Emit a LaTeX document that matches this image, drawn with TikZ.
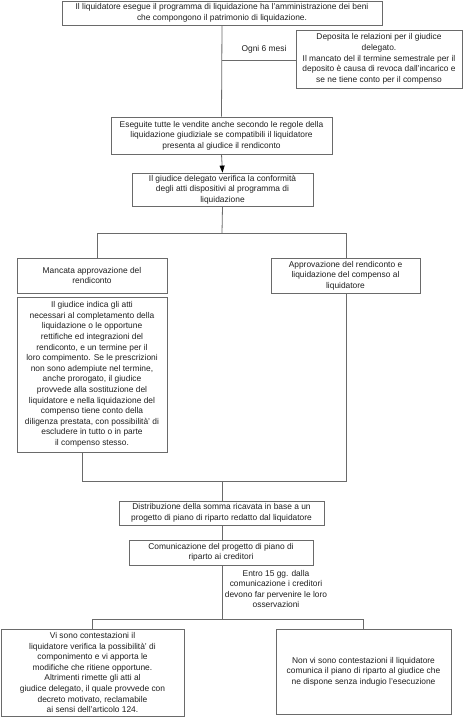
\documentclass[tikz,border=0pt]{standalone}
\usepackage{fontspec}
\setmainfont{Liberation Sans}
\usetikzlibrary{arrows.meta}
\definecolor{edge}{HTML}{6A6A6A}
\definecolor{ink}{HTML}{1E1E1E}
\tikzset{
  box/.style={draw=edge, line width=0.8pt, inner sep=0pt, align=center, text=ink,
    font=\fontsize{8.4}{10.6}\selectfont},
  conn/.style={draw=edge, line width=0.8pt},
  lbl/.style={inner sep=0pt, align=center, text=ink, font=\fontsize{8.4}{10.6}\selectfont}
}
\begin{document}
\begin{tikzpicture}[x=1pt,y=-1pt]
\useasboundingbox (0,0) rectangle (468,717);
\node[box, minimum width=320, minimum height=24] (b1) at (222,13)
  {Il liquidatore esegue il programma di liquidazione ha l'amministrazione dei beni\\che compongono il patrimonio di liquidazione.};
\node[box, minimum width=166, minimum height=58] (b2) at (379,59)
  {Deposita le relazioni per il giudice\\delegato.\\Il mancato del il termine semestrale per il\\deposito è causa di revoca dall'incarico e\\se ne tiene conto per il compenso};
\node[box, minimum width=221, minimum height=37] (b3) at (221.5,135.5)
  {Eseguite tutte le vendite anche secondo le regole della\\liquidazione giudiziale se compatibili il liquidatore\\presenta al giudice il rendiconto};
\node[box, minimum width=181, minimum height=33] (b4) at (222.5,189.5)
  {Il giudice delegato verifica la conformità\\degli atti dispositivi al programma di\\liquidazione};
\node[box, minimum width=150, minimum height=35] (b5) at (92,275.5)
  {Mancata approvazione del\\rendiconto};
\node[box, minimum width=149, minimum height=35] (b6) at (345.5,275.5)
  {Approvazione del rendiconto e\\liquidazione del compenso al\\liquidatore};
\node[box, minimum width=150, minimum height=155] (b7) at (92,374.5)
  {Il giudice indica gli atti\\necessari al completamento della\\liquidazione o le opportune\\rettifiche ed integrazioni del\\rendiconto, e un termine per il\\loro compimento. Se le prescrizioni\\non sono adempiute nel termine,\\anche prorogato, il giudice\\provvede alla sostituzione del\\liquidatore e nella liquidazione del\\compenso tiene conto della\\diligenza prestata, con possibilità' di\\escludere in tutto o in parte\\il compenso stesso.};
\node[box, minimum width=205, minimum height=24] (b8) at (221.5,513)
  {Distribuzione della somma ricavata in base a un\\progetto di piano di riparto redatto dal liquidatore};
\node[box, minimum width=184, minimum height=25] (b9) at (221,552.5)
  {Comunicazione del progetto di piano di\\riparto ai creditori};
\node[box, minimum width=183, minimum height=87] (b10) at (92.5,672.5)
  {Vi sono contestazioni il\\liquidatore verifica la possibilità' di\\componimento e vi apporta le\\modifiche che ritiene opportune.\\Altrimenti rimette gli atti al\\giudice delegato, il quale provvede con\\decreto motivato, reclamabile\\ai sensi dell'articolo 124.};
\node[box, minimum width=175, minimum height=85] (b11) at (363.5,671.5)
  {Non vi sono contestazioni il liquidatore\\comunica il piano di riparto al giudice che\\ne dispone senza indugio l'esecuzione};
\node[lbl] (l1) at (264,49) {Ogni 6 mesi};
\node[lbl] (l2) at (276,589) {Entro 15 gg. dalla\\comunicazione i creditori\\devono far pervenire le loro\\osservazioni};
% connectors
\coordinate (j1) at (222,60);
\draw[conn] (b1.south) -- (b3.north);
\draw[conn] (j1) -- (b2.west |- j1);
\draw[conn, -{Triangle[length=7pt,width=5pt,color=black]}] (b3.south) -- (b4.north);
\coordinate (j2) at (222,233);
\coordinate (j2l) at (97,233);
\coordinate (j2r) at (346,233);
\draw[conn] (b4.south) -- (j2);
\draw[conn] (j2l) -- (j2r);
\draw[conn] (j2l) -- (j2l |- b5.north);
\draw[conn] (j2r) -- (j2r |- b6.north);
\coordinate (j3l) at (82,481);
\coordinate (j3r) at (346,481);
\coordinate (j3) at (222,481);
\draw[conn] (j3l |- b7.south) -- (j3l) -- (j3r) -- (j3r |- b6.south);
\draw[conn] (j3) -- (b8.north -| j3);
\draw[conn] (b8.south -| j3) -- (b9.north -| j3);
\coordinate (j4) at (222,619);
\coordinate (j4l) at (92,619);
\coordinate (j4r) at (363,619);
\draw[conn] (b9.south -| j4) -- (j4);
\draw[conn] (j4l |- b10.north) -- (j4l) -- (j4r) -- (j4r |- b11.north);
\end{tikzpicture}
\end{document}
